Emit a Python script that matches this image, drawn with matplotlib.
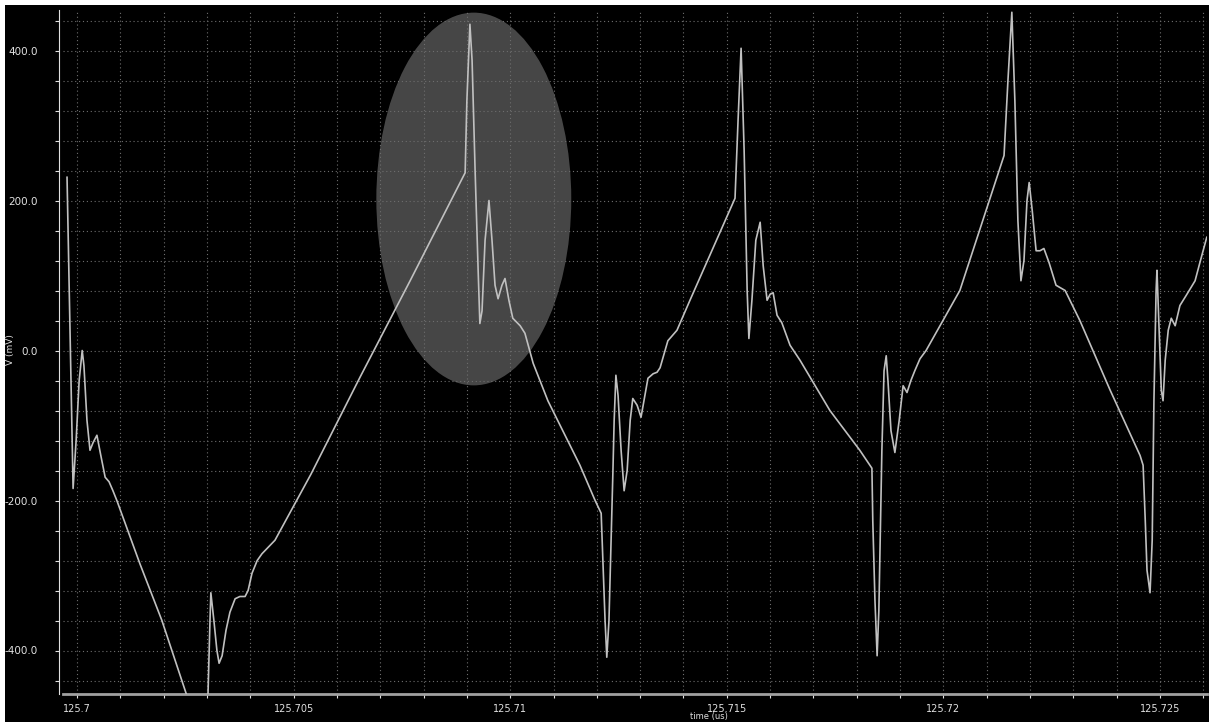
import matplotlib
matplotlib.use("Agg")
import matplotlib.pyplot as plt
import matplotlib.ticker as ticker
from matplotlib.patches import Ellipse, Rectangle

# scope trace: time in us, voltage in mV
time_us = [
    125.69977, 125.69984, 125.69991, 125.69998, 125.70005, 125.70012, 125.70016,
    125.70023, 125.70030, 125.70037, 125.70046, 125.70055, 125.70065, 125.70074,
    125.70083, 125.70092, 125.70145, 125.70196, 125.70219, 125.70265, 125.70275,
    125.70298, 125.70302, 125.70307, 125.70309, 125.70316, 125.70323, 125.70328,
    125.70335, 125.70344, 125.70353, 125.70365, 125.70376, 125.70388, 125.70395,
    125.70404, 125.70416, 125.70427, 125.70457, 125.70540, 125.70653, 125.70769,
    125.70896, 125.70900, 125.70907, 125.70912, 125.70919, 125.70926, 125.70930,
    125.70935, 125.70942, 125.70951, 125.70958, 125.70965, 125.70972, 125.70981,
    125.70988, 125.70997, 125.71006, 125.71023, 125.71034, 125.71053, 125.71087,
    125.71161, 125.71196, 125.71210, 125.71214, 125.71219, 125.71223, 125.71228,
    125.71233, 125.71237, 125.71240, 125.71244, 125.71249, 125.71256, 125.71263,
    125.71270, 125.71277, 125.71283, 125.71293, 125.71302, 125.71311, 125.71318,
    125.71330, 125.71339, 125.71346, 125.71364, 125.71385, 125.71415, 125.71519,
    125.71526, 125.71533, 125.71540, 125.71547, 125.71551, 125.71558, 125.71567,
    125.71577, 125.71584, 125.71593, 125.71600, 125.71607, 125.71616, 125.71627,
    125.71646, 125.71669, 125.71738, 125.71807, 125.71835, 125.71837, 125.71842,
    125.71847, 125.71851, 125.71858, 125.71863, 125.71868, 125.71872, 125.71879,
    125.71888, 125.71898, 125.71907, 125.71916, 125.71925, 125.71934, 125.71946,
    125.71960, 125.72038, 125.72140, 125.72149, 125.72158, 125.72165, 125.72172,
    125.72179, 125.72186, 125.72193, 125.72198, 125.72205, 125.72214, 125.72223,
    125.72232, 125.72244, 125.72260, 125.72281, 125.72315, 125.72385, 125.72454,
    125.72461, 125.72466, 125.72470, 125.72477, 125.72482, 125.72486, 125.72491,
    125.72493, 125.72498, 125.72503, 125.72507, 125.72512, 125.72519, 125.72526,
    125.72535, 125.72546, 125.72560, 125.72581, 125.72592, 125.72608,
]
voltage_mv = [
    231, 27, -184, -120, -40, 0, -20,
    -93, -133, -123, -113, -140, -169, -175,
    -187, -200, -284, -360, -400, -480, -491,
    -483, -467, -360, -323, -360, -400, -417,
    -407, -373, -349, -331, -328, -328, -320,
    -297, -280, -271, -253, -165, -36, 93,
    237, 333, 435, 387, 240, 107, 36,
    53, 147, 200, 147, 87, 69, 87,
    96, 67, 43, 33, 23, -17, -67,
    -153, -200, -217, -280, -360, -409, -360,
    -253, -164, -93, -33, -60, -133, -187,
    -160, -93, -64, -73, -89, -60, -37,
    -31, -29, -23, 13, 27, 67, 203,
    307, 403, 267, 80, 16, 67, 147,
    171, 113, 67, 75, 77, 47, 37,
    7, -13, -80, -133, -157, -227, -333,
    -407, -347, -133, -27, -7, -40, -107,
    -136, -93, -47, -56, -40, -27, -11,
    0, 80, 260, 360, 451, 333, 173,
    93, 120, 200, 224, 187, 133, 133,
    136, 117, 87, 80, 40, -53, -140,
    -153, -227, -293, -323, -253, -67, 80,
    107, 27, -53, -67, -13, 27, 43,
    33, 60, 73, 93, 117, 151,
]

# highlighted region around the first spike
mark_center = (125.70916, 202)
mark_width = 0.0045
mark_height = 497

fig = plt.figure(figsize=(12.09, 7.22), dpi=100, facecolor="black")
fig.patches.append(Rectangle((0, 1 - 5 / 722), 1, 5 / 722, transform=fig.transFigure,
                             facecolor="white", edgecolor="none"))
fig.patches.append(Rectangle((0, 0), 5 / 1209, 1, transform=fig.transFigure,
                             facecolor="white", edgecolor="none"))

ax = fig.add_axes([63 / 1209, 28 / 722, 1144 / 1209, 684 / 722], facecolor="black")

ax.add_patch(Ellipse(mark_center, mark_width, mark_height,
                     facecolor="white", alpha=0.28, edgecolor="none", zorder=1))
ax.plot(time_us, voltage_mv, color="#c0c0c0", lw=1.2, zorder=3)

ax.set_xlim(125.699677, 125.726085)
ax.set_ylim(-458, 454)

ax.xaxis.set_major_locator(ticker.MultipleLocator(0.005))
ax.xaxis.set_minor_locator(ticker.MultipleLocator(0.001))
ax.xaxis.set_major_formatter(ticker.FuncFormatter(lambda x, _: f"{round(x, 4):g}"))
ax.yaxis.set_major_locator(ticker.MultipleLocator(200))
ax.yaxis.set_minor_locator(ticker.MultipleLocator(40))
ax.yaxis.set_major_formatter(ticker.FuncFormatter(lambda y, _: f"{y:.1f}"))

ax.grid(which="both", color="#6e6e6e", lw=0.8, ls=(0, (1, 2.5)), zorder=0)

for side in ["top", "right"]:
    ax.spines[side].set_visible(False)
ax.spines["left"].set_position(("outward", 3))
ax.spines["left"].set_color("#e0e0e0")
ax.spines["bottom"].set_color("#a0a0a0")
ax.spines["bottom"].set_linewidth(2)

ax.tick_params(which="both", colors="#e0e0e0", length=3, width=0.8, direction="out")
ax.tick_params(axis="y", labelsize=7.5, pad=12)
ax.tick_params(axis="x", labelsize=7, pad=4)

fig.text(10 / 1209, 1 - 350 / 722, "V (mV)", color="#e0e0e0", fontsize=6.5,
         rotation=90, ha="center", va="center")
fig.text(709 / 1209, 1 - 717 / 722, "time (us)", color="#e0e0e0", fontsize=6,
         ha="center", va="center")

fig.savefig("out.png", dpi=100, facecolor=fig.get_facecolor())
